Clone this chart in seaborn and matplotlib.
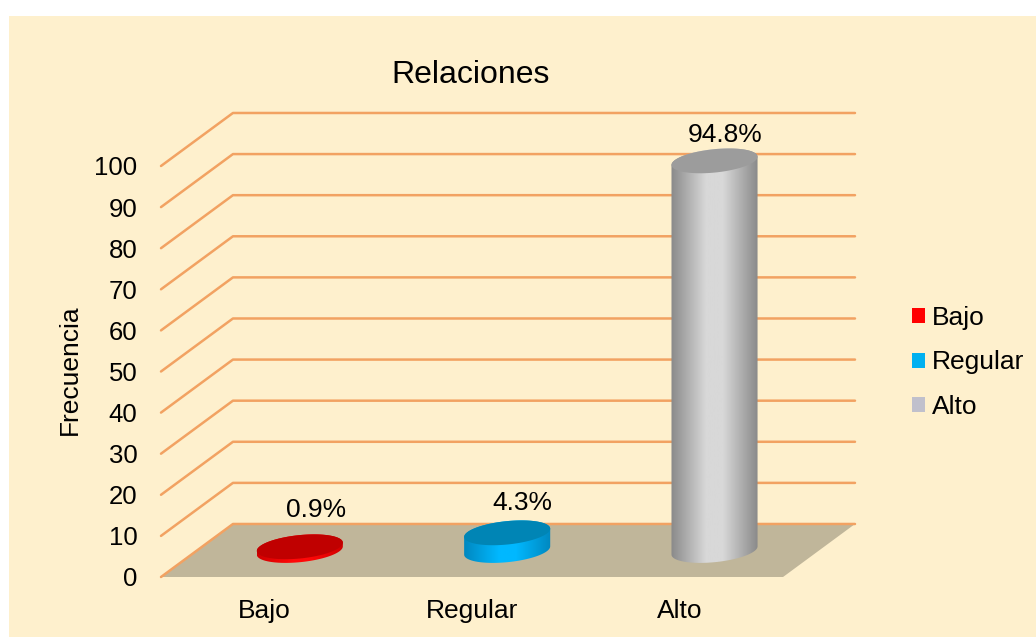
import numpy as np
import pandas as pd
import matplotlib
matplotlib.use("Agg")
import matplotlib.pyplot as plt
import seaborn as sns
from matplotlib.colors import LinearSegmentedColormap
from matplotlib.patches import Patch, Polygon, Rectangle

# -----------------------------
# Data
categorias = ["Bajo", "Regular", "Alto"]
valores = [0.9, 4.3, 94.8]
etiquetas = ["0.9%", "4.3%", "94.8%"]
ticks_y = [0, 10, 20, 30, 40, 50, 60, 70, 80, 90, 100]

# -----------------------------
# Style
sns.set_style("white")
plt.rcParams["font.family"] = ["Liberation Sans", "DejaVu Sans"]

FONDO = "#FEF0CD"
PISO = "#C0B69A"
LINEA = "#F2A262"
colores_leyenda = ["#FF0000", "#00B0F0", "#C0C0CC"]
# dark edge, light centre, top of the cylinder
colores_cilindro = [("#D00000", "#FF0808", "#C00000"),
                    ("#0088C0", "#00B8FF", "#0085B5"),
                    ("#8A8A8A", "#D8D8D8", "#9C9C9C")]

# depth of the fake 3D box, in axis units
prof_x = 0.347
prof_y = 12.9

W, H = 1036, 637
fig = plt.figure(figsize=(W / 100, H / 100), dpi=100, facecolor="white")
fig.patches.append(Rectangle((9 / W, 0), 1 - 9 / W, 1 - 16 / H, transform=fig.transFigure,
                             facecolor=FONDO, edgecolor="none", zorder=-10))

ax = fig.add_axes([161 / W, (H - 577) / H, 694 / W, 463 / H])
ax.patch.set_alpha(0)

df = pd.DataFrame({"categoria": categorias, "valor": valores})
sns.barplot(data=df, x="categoria", y="valor", ax=ax, width=0.415,
            bottom=prof_y / 2, color=FONDO, errorbar=None)

# -----------------------------
# Floor and walls
ax.add_patch(Polygon([(-0.5, 0), (2.5, 0), (2.5 + prof_x, prof_y), (-0.5 + prof_x, prof_y)],
                     facecolor=PISO, edgecolor="none", zorder=1))
for t in ticks_y:
    ax.plot([-0.5, -0.5 + prof_x, 2.5 + prof_x], [t, t + prof_y, t + prof_y],
            color=LINEA, lw=1.8, zorder=1.5, clip_on=False, solid_capstyle="round")

# -----------------------------
# Cylinders, built on the geometry of the seaborn bars
ang = np.linspace(0, 2 * np.pi, 121)
a_y = 2.85   # ellipse half height
s_y = 1.0    # ellipse tilt
for barra, cols, txt, dx, dy in zip(ax.patches[:3], colores_cilindro, etiquetas,
                                    [16, 15, 11], [37, 30, 26]):
    barra.set_visible(False)
    cx = barra.get_x() + barra.get_width() / 2 + prof_x / 2 - 0.004
    a_x = barra.get_width() / 2
    base = barra.get_y()
    tope = base + barra.get_height()

    x_el = cx + a_x * np.cos(ang)
    y_el = s_y * np.cos(ang) + a_y * np.sin(ang)
    abajo = ang >= np.pi
    arriba = ang <= np.pi
    contorno = np.vstack([
        np.column_stack([x_el[abajo], base + y_el[abajo]]),
        np.column_stack([x_el[arriba], tope + y_el[arriba]]),
    ])

    cmap = LinearSegmentedColormap.from_list(
        "cil", [(0, cols[0]), (0.4, cols[1]), (0.6, cols[1]), (1, cols[0])])
    img = ax.imshow(np.linspace(0, 1, 128).reshape(1, -1), cmap=cmap, aspect="auto",
                    extent=[cx - a_x, cx + a_x, base - 5, tope + 5], zorder=3)
    img.set_clip_path(Polygon(contorno, transform=ax.transData))
    ax.fill(x_el, tope + y_el, color=cols[2], lw=0, zorder=4)

    ax.annotate(txt, (cx, tope), xytext=(dx * 0.72, dy * 0.72), textcoords="offset points",
                ha="center", va="center", fontsize=19, color="black", zorder=5)

# -----------------------------
# Axes
ax.set_xlim(-0.5, 2.5 + prof_x)
ax.set_ylim(0, 463 / 4.11)
ax.set_yticks(ticks_y)
ax.set_xticks(range(len(categorias)))
ax.set_xticklabels(categorias)
ax.tick_params(axis="y", length=0, pad=17, labelsize=18.5, labelcolor="black")
ax.tick_params(axis="x", length=0, pad=16, labelsize=19, labelcolor="black")
ax.set_xlabel("")
ax.set_ylabel("Frecuencia", fontsize=19, color="black", labelpad=8)
ax.yaxis.set_label_coords(-79 / 694, 207 / 463)
sns.despine(ax=ax, left=True, bottom=True)
ax.set_title("Relaciones", fontsize=23, color="black", x=(471 - 161) / 694, pad=22)

manijas = [Patch(facecolor=c, edgecolor="none", label=n)
           for c, n in zip(colores_leyenda, categorias)]
ax.legend(handles=manijas, loc="center left", bbox_to_anchor=(912 / W, (H - 362.5) / H),
          bbox_transform=fig.transFigure, frameon=False, fontsize=19, labelspacing=0.78,
          handlelength=0.5, handleheight=0.5, handletextpad=0.24, borderpad=0, borderaxespad=0,
          labelcolor="black")

fig.savefig("out.png", dpi=100, facecolor=fig.get_facecolor())
